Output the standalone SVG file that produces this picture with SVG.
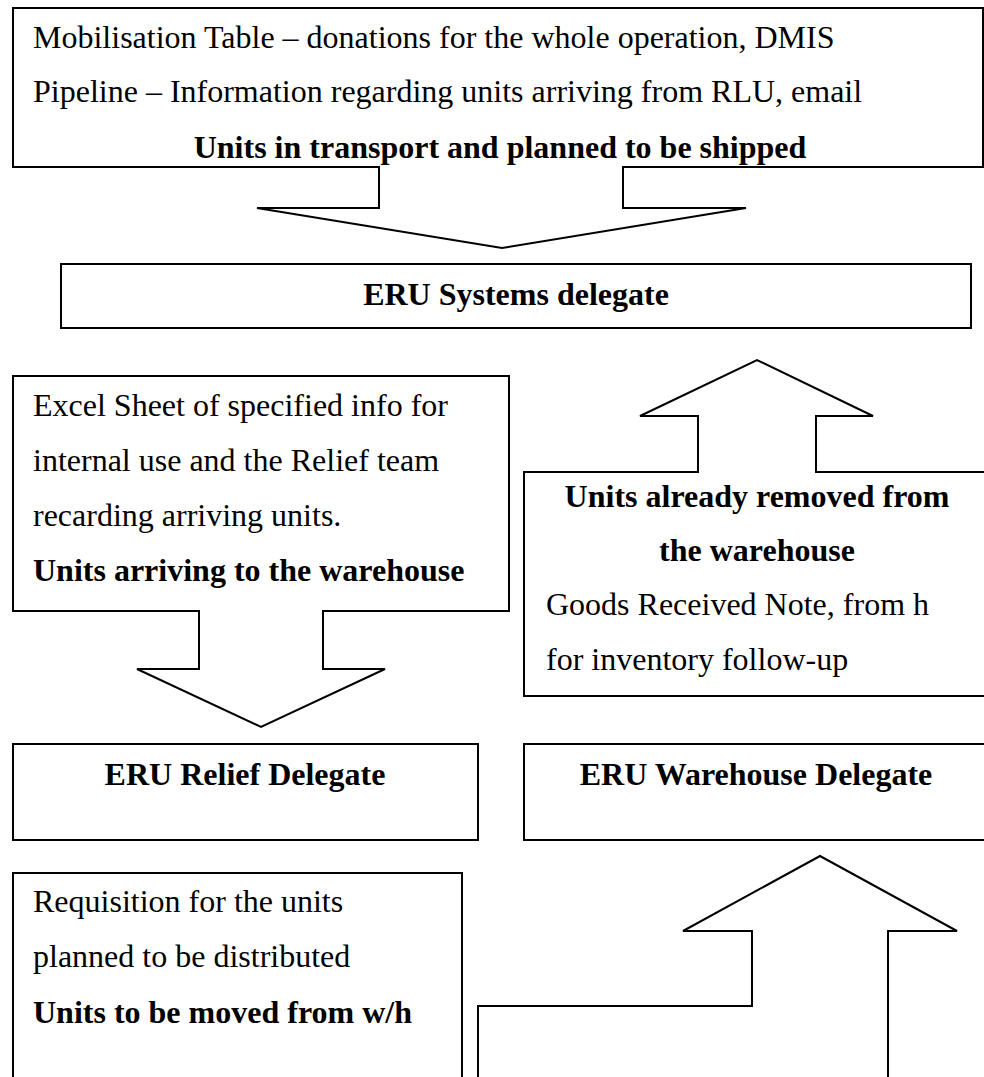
<svg xmlns="http://www.w3.org/2000/svg" width="984" height="1077" viewBox="0 0 984 1077">
  <style>
    .shape { fill: #fff; stroke: #000; stroke-width: 2; stroke-linejoin: miter; }
    .t { font-family: "Liberation Serif", "Times New Roman", serif; font-size: 32px; fill: #000; }
    .b { font-weight: bold; }
    .c { text-anchor: middle; }
  </style>
  <rect width="984" height="1077" fill="#fff"/>

  <!-- Callout: units in transport (box with down arrow) -->
  <g id="node-transport">
    <path class="shape" d="M13,8 H983 V167 H623 V208 H746 L502,248 L257,208 H379 V167 H13 Z"/>
    <text class="t" x="33" y="48">Mobilisation Table – donations for the whole operation, DMIS</text>
    <text class="t" x="33" y="102">Pipeline – Information regarding units arriving from RLU, email</text>
    <text class="t b c" x="500" y="158">Units in transport and planned to be shipped</text>
  </g>

  <!-- ERU Systems delegate -->
  <g id="node-systems">
    <rect class="shape" x="61" y="264" width="910" height="64"/>
    <text class="t b c" x="516" y="305">ERU Systems delegate</text>
  </g>

  <!-- Callout: units arriving (box with down arrow) -->
  <g id="node-arriving">
    <path class="shape" d="M13,376 H509 V611 H323 V669 H385 L261,727 L137,669 H199 V611 H13 Z"/>
    <text class="t" x="33" y="416">Excel Sheet of specified info for</text>
    <text class="t" x="33" y="471">internal use and the Relief team</text>
    <text class="t" x="33" y="526">recarding arriving units.</text>
    <text class="t b" x="33" y="581">Units arriving to the warehouse</text>
  </g>

  <!-- Callout: units already removed (box with up arrow) -->
  <g id="node-removed">
    <path class="shape" d="M524,472 H698 V416 H640 L757,360 L873,416 H816 V472 H992 V696 H524 Z"/>
    <text class="t b c" x="757" y="507">Units already removed from</text>
    <text class="t b c" x="757" y="561">the warehouse</text>
    <text class="t" x="546" y="615">Goods Received Note, from h</text>
    <text class="t" x="546" y="670">for inventory follow-up</text>
  </g>

  <!-- ERU Relief Delegate -->
  <g id="node-relief">
    <rect class="shape" x="13" y="744" width="465" height="96"/>
    <text class="t b c" x="245" y="785">ERU Relief Delegate</text>
  </g>

  <!-- ERU Warehouse Delegate -->
  <g id="node-warehouse">
    <rect class="shape" x="524" y="744" width="468" height="96"/>
    <text class="t b c" x="756" y="785">ERU Warehouse Delegate</text>
  </g>

  <!-- Requisition box -->
  <g id="node-requisition">
    <path class="shape" d="M13,1080 V873 H462 V1080"/>
    <text class="t" x="33" y="912">Requisition for the units</text>
    <text class="t" x="33" y="967">planned to be distributed</text>
    <text class="t b" x="33" y="1023">Units to be moved from w/h</text>
  </g>

  <!-- Connectors -->
  <g id="connectors">
    <path class="shape" d="M478,1080 V1006 H752 V931 H683 L820,856 L957,931 H888 V1080"/>
  </g>
</svg>
